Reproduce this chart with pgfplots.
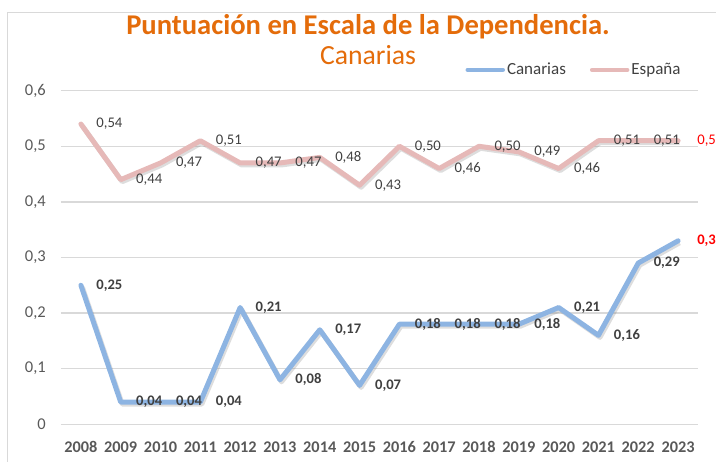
\documentclass[border=0pt]{standalone}
\usepackage{fontspec}
\setmainfont{Carlito}
\usepackage{pgfplots}
\pgfplotsset{compat=1.18}
\definecolor{blueL}{RGB}{141,180,226}
\definecolor{pinkL}{RGB}{230,185,184}
\definecolor{titleO}{RGB}{228,108,10}
\definecolor{txt}{RGB}{64,64,64}
\definecolor{tickc}{RGB}{89,89,89}
\definecolor{gridc}{RGB}{217,217,217}
\definecolor{shad}{RGB}{120,120,120}
\begin{document}
\begin{tikzpicture}[x=1pt,y=1pt]
\useasboundingbox (-61,-37.7) rectangle (655,424.3);
\draw[gridc, line width=1pt] (-53.5,-60) rectangle (680,411.8);
\node[anchor=base, font=\bfseries\fontsize{28.6}{30}\selectfont, text=titleO] at (307,389.3) {Puntuación en Escala de la Dependencia.};
\node[anchor=base, font=\fontsize{27.7}{30}\selectfont, text=titleO] at (307,360) {Canarias};
\begin{axis}[
  at={(0,0)}, anchor=south west,
  scale only axis, width=637pt, height=333.6pt,
  xmin=2007.5, xmax=2023.5, ymin=0, ymax=0.6,
  xtick={2008,...,2023}, ytick={0,0.1,...,0.6},
  axis line style={draw=none}, major tick length=0pt,
  ymajorgrids, grid style={gridc, line width=1.3pt},
  /pgf/number format/assume math mode=true,
  /pgf/number format/1000 sep={},
  yticklabel={\pgfmathprintnumber[use comma,fixed,precision=1]{\tick}},
  xticklabel style={anchor=center, yshift=-22.7pt, inner sep=0pt, font=\bfseries\fontsize{16.3}{18}\selectfont, text=tickc},
  yticklabel style={anchor=east, xshift=-15pt, inner sep=0pt, font=\fontsize{16.5}{18}\selectfont, text=tickc},
  legend columns=2,
  legend style={at={(0.976,1)}, anchor=south east, yshift=12pt, draw=none, fill=none,
    font=\fontsize{17}{18}\selectfont, text=txt, inner sep=0pt,
    /tikz/every even column/.append style={column sep=22pt}},
  legend image code/.code={\draw[#1, line width=4.5pt] (0pt,0pt) -- (35pt,0pt);},
  point meta=explicit symbolic,
  nodes near coords,
  nodes near coords style={anchor=center, xshift=28.5pt, yshift=0pt, text=txt, inner sep=0pt},
]
% shadows
\addplot[shad, opacity=0.25, line width=5pt, line join=round, xshift=1.5pt, yshift=-2pt, forget plot, nodes near coords={}] coordinates {
(2008,0.25)(2009,0.04)(2010,0.04)(2011,0.04)(2012,0.21)(2013,0.08)(2014,0.17)(2015,0.07)
(2016,0.18)(2017,0.18)(2018,0.18)(2019,0.18)(2020,0.21)(2021,0.16)(2022,0.29)(2023,0.33)};
\addplot[shad, opacity=0.25, line width=5pt, line join=round, xshift=1.5pt, yshift=-2pt, forget plot, nodes near coords={}] coordinates {
(2008,0.54)(2009,0.44)(2010,0.47)(2011,0.51)(2012,0.47)(2013,0.47)(2014,0.48)(2015,0.43)
(2016,0.50)(2017,0.46)(2018,0.50)(2019,0.49)(2020,0.46)(2021,0.51)(2022,0.51)(2023,0.51)};
\addplot[blueL, line width=5pt, line join=round, line cap=round,
  nodes near coords style={font=\bfseries\fontsize{14.6}{16}\selectfont}] coordinates {
(2008,0.25)[0,25] (2009,0.04)[0,04] (2010,0.04)[0,04] (2011,0.04)[0,04]
(2012,0.21)[0,21] (2013,0.08)[0,08] (2014,0.17)[0,17] (2015,0.07)[0,07]
(2016,0.18)[0,18] (2017,0.18)[0,18] (2018,0.18)[0,18] (2019,0.18)[0,18]
(2020,0.21)[0,21] (2021,0.16)[0,16] (2022,0.29)[0,29] (2023,0.33)[\textcolor{red}{0,3}]};
\addlegendentry{Canarias}
\addplot[pinkL, line width=5pt, line join=round, line cap=round,
  nodes near coords style={font=\fontsize{14.7}{16}\selectfont}] coordinates {
(2008,0.54)[0,54] (2009,0.44)[0,44] (2010,0.47)[0,47] (2011,0.51)[0,51]
(2012,0.47)[0,47] (2013,0.47)[0,47] (2014,0.48)[0,48] (2015,0.43)[0,43]
(2016,0.50)[0,50] (2017,0.46)[0,46] (2018,0.50)[0,50] (2019,0.49)[0,49]
(2020,0.46)[0,46] (2021,0.51)[0,51] (2022,0.51)[0,51] (2023,0.51)[\textcolor{red}{0,5}]};
\addlegendentry{España}
\end{axis}
\end{tikzpicture}
\end{document}
